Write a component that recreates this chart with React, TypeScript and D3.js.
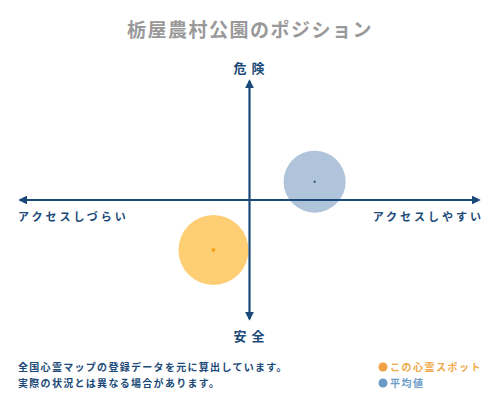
import React from 'react';
import * as d3 from 'd3';

const title = '栃屋農村公園のポジション';
const axisLabels = { top: '危険', bottom: '安全', left: 'アクセスしづらい', right: 'アクセスしやすい' };
const noteLines = ['全国心霊マップの登録データを元に算出しています。', '実際の状況とは異なる場合があります。'];

// positions on a -10..10 grid (x: access, y: danger)
const seriesNames = ['この心霊スポット', '平均値'];
const seriesX = [-1.55, 2.8];
const seriesY = [-4.1, 1.5];

const W = 500;
const H = 400;
const FONT = '"Noto Sans CJK JP", "Noto Sans", sans-serif';
const AXIS = '#1b4a78';
const fills = ['#fdc964', '#a6bdd7'];
const dots = ['#f2a11e', '#1b3a5c'];
const legendColors = ['#f0a040', '#6b9cc8'];
const radii = [35, 31];

const App: React.FC = () => {
  const x = d3.scaleLinear().domain([-10, 10]).range([17, 482]);
  const y = d3.scaleLinear().domain([-10, 10]).range([322, 78]);
  const cx = x(0);
  const cy = y(0);

  return (
    <svg width={W} height={H} style={{ position: 'absolute', left: 0, top: 0, background: '#fff' }} fontFamily={FONT}>
      <defs>
        <marker id="arr" viewBox="0 0 10 10" refX="8" refY="5" markerWidth="4" markerHeight="4" orient="auto-start-reverse">
          <path d="M0,0 L10,5 L0,10 z" fill={AXIS} />
        </marker>
      </defs>
      <text x={W / 2} y={37} textAnchor="middle" fontSize={19} fontWeight={700} fill="#999" letterSpacing={1.5}>
        {title}
      </text>

      {seriesNames.map((n, i) => (
        <circle key={n} cx={x(seriesX[i])} cy={y(seriesY[i])} r={radii[i]} fill={fills[i]} opacity={i === 0 ? 0.9 : 0.9} />
      ))}

      <line x1={x(-10) + 3} x2={x(10) - 3} y1={cy} y2={cy} stroke={AXIS} strokeWidth={2.2}
        markerStart="url(#arr)" markerEnd="url(#arr)" />
      <line x1={cx} x2={cx} y1={y(10) + 3} y2={y(-10) - 3} stroke={AXIS} strokeWidth={2.2}
        markerStart="url(#arr)" markerEnd="url(#arr)" />

      {seriesNames.map((n, i) => (
        <circle key={n + 'c'} cx={x(seriesX[i])} cy={y(seriesY[i])} r={i === 0 ? 2 : 1} fill={dots[i]} />
      ))}

      <text x={cx + 2} y={73} textAnchor="middle" fontSize={13} fontWeight={700} fill={AXIS} letterSpacing={5}>{axisLabels.top}</text>
      <text x={cx + 2} y={341} textAnchor="middle" fontSize={13} fontWeight={700} fill={AXIS} letterSpacing={5}>{axisLabels.bottom}</text>
      <text x={18} y={221} fontSize={11} fontWeight={700} fill={AXIS} letterSpacing={3}>{axisLabels.left}</text>
      <text x={484} y={221} textAnchor="end" fontSize={11} fontWeight={700} fill={AXIS} letterSpacing={3}>{axisLabels.right}</text>

      {noteLines.map((t, i) => (
        <text key={t} x={18} y={371 + i * 16} fontSize={10} fontWeight={700} fill={AXIS} letterSpacing={1.3}>{t}</text>
      ))}

      {seriesNames.map((n, i) => (
        <g key={n + 'l'} transform={`translate(383,${367 + i * 16})`}>
          <circle r={4.5} fill={legendColors[i]} />
          <text x={7} y={4} fontSize={10} fontWeight={700} fill={i === 0 ? '#f0a848' : '#6b9cc8'} letterSpacing={1.5}>{n}</text>
        </g>
      ))}
    </svg>
  );
};

export default App;
